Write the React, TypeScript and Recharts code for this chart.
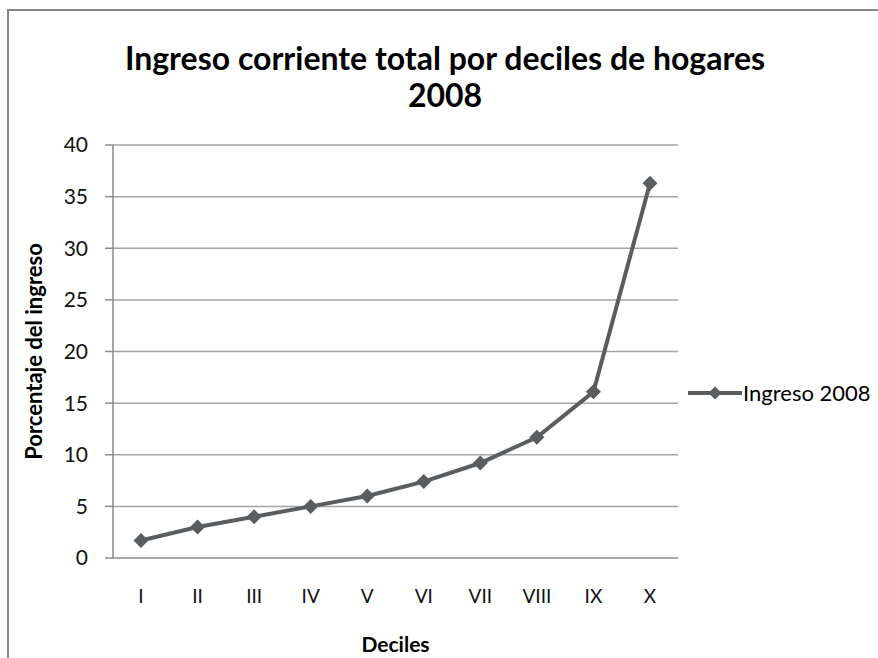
import { LineChart, Line, XAxis, YAxis, CartesianGrid, Legend, Label } from "recharts";

const deciles = ["I", "II", "III", "IV", "V", "VI", "VII", "VIII", "IX", "X"];
const ingreso2008 = [1.7, 3.0, 4.0, 5.0, 6.0, 7.4, 9.2, 11.7, 16.1, 36.3];
const yTicks = [0, 5, 10, 15, 20, 25, 30, 35, 40];

const data = deciles.map((decil, i) => ({ decil, ingreso: ingreso2008[i] }));

const FONT = "Lato, 'Open Sans', sans-serif";
const LINE = "#595d5f";
const GRID = "#a3a3a3";

// Diamond marker like the Excel series
// eslint-disable-next-line @typescript-eslint/no-explicit-any
const Diamond = (props: any) => {
    const { cx, cy, index } = props;
    if (cx == null || cy == null) return null;
    const r = 7.5;
    return (
        <path
            key={`d-${index}`}
            d={`M${cx},${cy - r} L${cx + r},${cy} L${cx},${cy + r} L${cx - r},${cy} Z`}
            fill={LINE}
        />
    );
};

const LegendContent = () => (
    <div style={{ display: "flex", alignItems: "center", fontFamily: FONT, fontSize: 22, color: "#000" }}>
        <svg width={54} height={16} style={{ marginRight: 1 }}>
            <line x1={0} y1={8} x2={54} y2={8} stroke={LINE} strokeWidth={4} />
            <path d="M27,1.5 L33.5,8 L27,14.5 L20.5,8 Z" fill={LINE} />
        </svg>
        <span>Ingreso 2008</span>
    </div>
);

export default function App() {
    return (
        <div
            style={{
                position: "fixed",
                top: 0,
                left: 0,
                width: 878,
                height: 658,
                background: "#fff",
                overflow: "hidden",
            }}
        >
            {/* chart frame, only top and left edges visible */}
            <div
                style={{
                    position: "absolute",
                    left: 7,
                    top: 9,
                    width: 920,
                    height: 720,
                    borderTop: "2px solid #878787",
                    borderLeft: "2px solid #878787",
                }}
            />

            <div
                style={{
                    position: "absolute",
                    left: 0,
                    top: 39,
                    width: 890,
                    textAlign: "center",
                    fontFamily: FONT,
                    fontWeight: 700,
                    fontSize: 32,
                    lineHeight: "37px",
                    color: "#000",
                }}
            >
                Ingreso corriente total por deciles de hogares
                <br />
                2008
            </div>

            <div style={{ position: "absolute", left: 0, top: 0 }}>
                <LineChart
                    width={878}
                    height={658}
                    data={data}
                    margin={{ top: 145, right: 200, left: 53, bottom: 60 }}
                >
                    <CartesianGrid vertical={false} stroke={GRID} strokeWidth={1.5} />

                    <XAxis
                        dataKey="decil"
                        height={40}
                        padding={{ left: 28, right: 28 }}
                        axisLine={{ stroke: GRID, strokeWidth: 1.5 }}
                        tickLine={false}
                        tickSize={0}
                        tickMargin={32}
                        tick={{ fontSize: 19, fill: "#111", fontFamily: FONT }}
                        interval={0}
                    >
                        <Label
                            value="Deciles"
                            position="bottom"
                            offset={39}
                            style={{ fontSize: 21, fontWeight: 700, fill: "#000", fontFamily: FONT }}
                        />
                    </XAxis>

                    <YAxis
                        width={60}
                        domain={[0, 40]}
                        ticks={yTicks}
                        interval={0}
                        axisLine={{ stroke: "#8a8a8a", strokeWidth: 1.5 }}
                        tickLine={{ stroke: "#8a8a8a", strokeWidth: 1.5 }}
                        tickSize={8}
                        tickMargin={17}
                        tick={{ fontSize: 21, fill: "#111", fontFamily: FONT }}
                    >
                        <Label
                            value="Porcentaje del ingreso"
                            position="center"
                            angle={-90}
                            dx={-49}
                            style={{ fontSize: 22, fontWeight: 700, fill: "#000", fontFamily: FONT, textAnchor: "middle" }}
                        />
                    </YAxis>

                    {/* center/middle so the legend does not shrink the plot area */}
                    <Legend
                        layout="horizontal"
                        verticalAlign="middle"
                        align="center"
                        content={<LegendContent />}
                        wrapperStyle={{ left: 688, top: 379, width: 190 }}
                    />

                    <Line
                        dataKey="ingreso"
                        name="Ingreso 2008"
                        type="linear"
                        stroke={LINE}
                        strokeWidth={4}
                        dot={Diamond}
                        activeDot={false}
                        isAnimationActive={false}
                    />
                </LineChart>
            </div>
        </div>
    );
}
